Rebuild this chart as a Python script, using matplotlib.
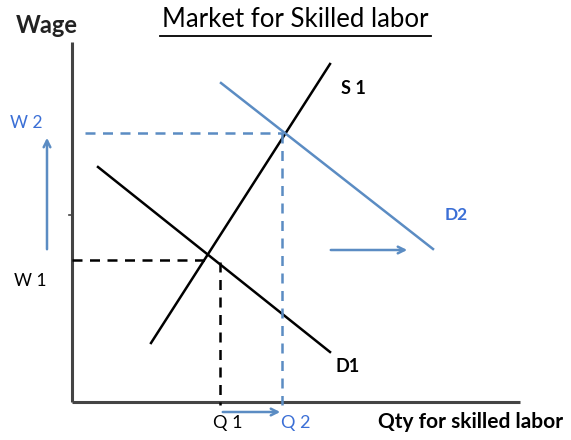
import matplotlib
matplotlib.use('Agg')
import matplotlib.pyplot as plt

plt.rcParams['font.family'] = ['Lato', 'DejaVu Sans']

# Coordinates: qty to the right of the wage axis, wage above the qty axis
S1_q = [79, 258]
S1_w = [59, 338]
D1_q = [26, 258]
D1_w = [235, 50]
D2_q = [149, 361]
D2_w = [319, 153]

eq1 = (135, 142)   # (Q1, W1)
eq2 = (211, 269)   # (Q2, W2)
mid_tick = 187

BLUE_LINE = '#5b8cc3'
BLUE_TEXT = '#3b6fd6'

fig = plt.figure(figsize=(5.71, 4.40), dpi=100)
ax = fig.add_axes([0, 0, 1, 1])
ax.set_xlim(-72, 499)
ax.set_ylim(-38, 402)
ax.axis('off')

# axes
ax.plot([0, 0], [0, 360], color='#444444', lw=2.2, solid_capstyle='butt')
ax.plot([0, 448], [0, 0], color='#444444', lw=2.2, solid_capstyle='butt')
ax.plot([-3, 0], [mid_tick, mid_tick], color='#444444', lw=1.2)

# curves
ax.plot(S1_q, S1_w, color='black', lw=1.8)
ax.plot(D1_q, D1_w, color='black', lw=1.8)
ax.plot(D2_q, D2_w, color=BLUE_LINE, lw=1.8)

# equilibrium guides
ax.plot([0, eq1[0]], [eq1[1], eq1[1]], color='black', lw=1.8, ls=(0, (4, 3)))
ax.plot([148, 148], [eq1[1] - 2, -3], color='black', lw=1.8, ls=(0, (4, 3)))
ax.plot([13, eq2[0]], [eq2[1], eq2[1]], color=BLUE_LINE, lw=1.8, ls=(0, (4, 3)))
ax.plot([eq2[0] - 1, eq2[0] - 1], [eq2[1], -3], color=BLUE_LINE, lw=1.8, ls=(0, (4, 3)))

# shift arrows
arrow = dict(arrowstyle='->', color=BLUE_LINE, lw=1.8, mutation_scale=12)
ax.annotate('', xy=(338, 152), xytext=(256, 152), arrowprops=arrow)
ax.annotate('', xy=(-25, 267), xytext=(-25, 150), arrowprops=arrow)
ax.annotate('', xy=(211, -10), xytext=(148, -10), arrowprops=arrow)

# labels
ax.text(-25, 377, 'Wage', fontsize=17, fontweight='bold', color='#222222',
        ha='center', va='center')
ax.text(223, 383, 'Market for Skilled labor', fontsize=18.5, color='black',
        ha='center', va='center')
ax.plot([88, 359], [366, 366], color='black', lw=1.3)
ax.text(-46, 279, 'W 2', fontsize=12.5, color=BLUE_TEXT, ha='center', va='center')
ax.text(-42, 121, 'W 1', fontsize=12.5, color='black', ha='center', va='center')
ax.text(156, -21, 'Q 1', fontsize=13, color='black', ha='center', va='center')
ax.text(224, -21, 'Q 2', fontsize=13, color=BLUE_TEXT, ha='center', va='center')
ax.text(399, -20, 'Qty for skilled labor', fontsize=15, fontweight='bold',
        color='black', ha='center', va='center')
ax.text(281, 314, 'S 1', fontsize=13, fontweight='bold', color='black',
        ha='center', va='center')
ax.text(276, 36, 'D1', fontsize=13, fontweight='bold', color='black',
        ha='center', va='center')
ax.text(384, 187, 'D2', fontsize=12.5, fontweight='bold', color=BLUE_TEXT,
        ha='center', va='center')

fig.savefig('out.png', dpi=100)
